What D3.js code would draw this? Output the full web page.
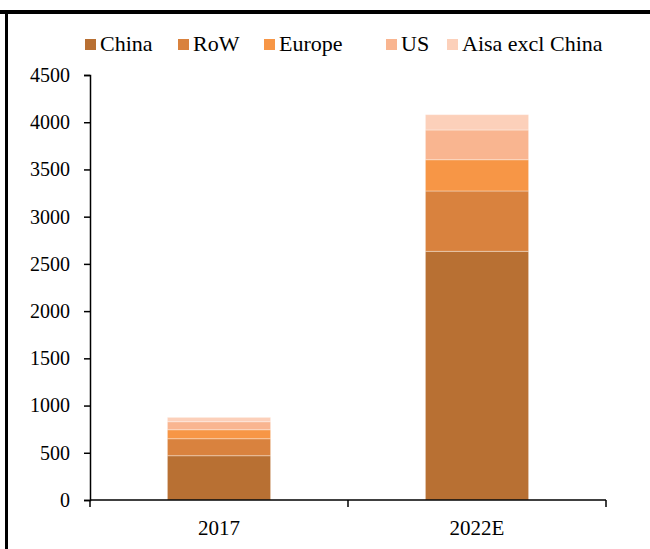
<!DOCTYPE html>
<html>
<head>
<meta charset="utf-8">
<script src="https://cdn.jsdelivr.net/npm/d3@7"></script>
<style>
  html, body { margin: 0; padding: 0; background: #fff; }
  svg { display: block; }
</style>
</head>
<body>
<svg id="chart" width="650" height="549"></svg>
<script>
// Battery demand by region (GWh)
const categories = ["2017", "2022E"];
const seriesNames = ["China", "RoW", "Europe", "US", "Aisa excl China"];
const china  = [469, 2633];
const row    = [180, 639];
const europe = [95, 331];
const us     = [85, 315];
const asiaEx = [46, 162];
const yTicks = [0, 500, 1000, 1500, 2000, 2500, 3000, 3500, 4000, 4500];
const colors = ["#B87033", "#D9823E", "#F79646", "#F9B590", "#FCD0BA"];

const seriesValues = [china, row, europe, us, asiaEx];
const table = categories.map((c, i) => {
  const o = { cat: c };
  seriesNames.forEach((s, k) => { o[s] = seriesValues[k][i]; });
  return o;
});

const svg = d3.select("#chart");
const font = "'Liberation Serif', 'Times New Roman', serif";

// frame lines
svg.append("rect").attr("x", 0).attr("y", 10).attr("width", 650).attr("height", 4).attr("fill", "#000");
svg.append("rect").attr("x", 5).attr("y", 14).attr("width", 3).attr("height", 535).attr("fill", "#000");

const plotLeft = 90, plotRight = 606, plotTop = 75, plotBottom = 500;

const x = d3.scaleBand().domain(categories).range([plotLeft, plotRight]).paddingInner(0.6).paddingOuter(0.3);
const xOuter = d3.scaleBand().domain(categories).range([plotLeft, plotRight]);
const y = d3.scaleLinear().domain([0, 4500]).range([plotBottom, plotTop]);

const stack = d3.stack().keys(seriesNames);
const layers = stack(table);

svg.append("g")
  .selectAll("g")
  .data(layers)
  .join("g")
  .attr("fill", (d, i) => colors[i])
  .selectAll("rect")
  .data(d => d)
  .join("rect")
  .attr("x", d => x(d.data.cat))
  .attr("width", x.bandwidth())
  .attr("y", d => y(d[1]))
  .attr("height", d => y(d[0]) - y(d[1]))
  .attr("stroke", "rgba(255,255,255,0.35)")
  .attr("stroke-width", 1);

// y axis
const yAxis = d3.axisLeft(y).tickValues(yTicks).tickSize(6).tickPadding(14).tickFormat(d3.format("d"));
const gy = svg.append("g").attr("transform", `translate(${plotLeft},0)`).call(yAxis);
gy.select(".domain").attr("stroke", "#000").attr("stroke-width", 1.5);
gy.selectAll(".tick line").attr("stroke", "#000").attr("stroke-width", 1.5);
gy.selectAll(".tick text").attr("font-family", font).attr("font-size", 20).attr("fill", "#000");

// x axis with ticks on category boundaries
const gx = svg.append("g").attr("transform", `translate(0,${plotBottom})`);
gx.append("line").attr("x1", plotLeft).attr("x2", plotRight).attr("y1", 0).attr("y2", 0)
  .attr("stroke", "#000").attr("stroke-width", 1.5);
const boundaries = categories.map(c => xOuter(c)).concat([xOuter(categories[categories.length - 1]) + xOuter.bandwidth()]);
gx.selectAll("line.tk").data(boundaries).join("line").attr("class", "tk")
  .attr("x1", d => d).attr("x2", d => d).attr("y1", 0).attr("y2", 7)
  .attr("stroke", "#000").attr("stroke-width", 1.5);
gx.selectAll("text").data(categories).join("text")
  .attr("x", d => xOuter(d) + xOuter.bandwidth() / 2)
  .attr("y", 35)
  .attr("text-anchor", "middle")
  .attr("font-family", font).attr("font-size", 21).attr("fill", "#000")
  .text(d => d);

// legend: swatch + label, placed in a single row
const legendX = [85, 178, 264, 386, 447];
const legend = svg.append("g");
seriesNames.forEach((name, i) => {
  const g = legend.append("g").attr("transform", `translate(${legendX[i]},0)`);
  g.append("rect").attr("x", 0).attr("y", 39).attr("width", 11).attr("height", 11).attr("fill", colors[i]);
  g.append("text").attr("x", 15).attr("y", 51)
    .attr("font-family", font).attr("font-size", 22).attr("fill", "#000").text(name);
});
</script>
</body>
</html>
